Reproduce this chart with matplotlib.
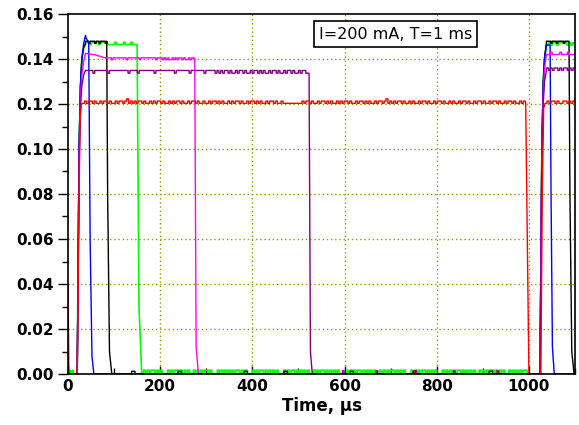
import matplotlib
matplotlib.use("Agg")
import matplotlib.pyplot as plt
from matplotlib.ticker import MultipleLocator

# ---------------- data ----------------
# Each trace = edge breakpoints (time in us, value) plus digitised-noise plateaus.
# A noise plateau is (t_start, t_end, base level, step, pattern); every character of the
# pattern is one sample: value = base + step * digit.

# red trace
red_a_t = [0, 2, 20, 23, 26, 29, 32]
red_a_v = [0.040, 0.0, 0.0, 0.060, 0.112, 0.120, 0.1203]
red_noise1 = ("0101101001011010010110120101011010010101101001010110100101101001"
              "0010110101001010110100101101010010110100100000000001011010010110"
              "1010010101101001011010100101101201010110100101001011010010110100"
              "1010010110100101101001011010010110100101")
red_b_t = [993, 1000, 1026, 1029, 1032, 1035]
red_b_v = [0.1203, 0.0, 0.0, 0.080, 0.118, 0.1203]
red_noise2 = "0101101001101011"

# purple trace
purple_a_t = [0, 20, 24, 27, 30, 34, 38]
purple_a_v = [0.0, 0.0, 0.090, 0.118, 0.128, 0.133, 0.1349]
purple_noise1 = ("1111011111110111111111101111011111111011111111110111111101111111011111"
                 "01010110100101101001011010100101101001011010010110")
purple_b_t = [520, 523, 526, 530]
purple_b_v = [0.1337, 0.1337, 0.010, 0.0]
purple_base = ("000000000000000000100000000000000000001000000000000000000000010000"
               "000000000000000000100000000000000000000000001000000000000000000")
purple_c_t = [1000, 1024, 1028, 1031, 1034, 1038]
purple_c_v = [0.0, 0.0, 0.090, 0.120, 0.130, 0.1350]
purple_noise2 = "1010110101101011"

# magenta trace
magenta_a_t = [0, 20, 24, 27, 30, 34, 38, 60, 80]
magenta_a_v = [0.0, 0.0, 0.095, 0.122, 0.133, 0.139, 0.1425, 0.1418, 0.1405]
magenta_noise1 = "111101111111101111111011111111101110101001010110100101"
magenta_b_t = [272, 275, 278, 283, 1000, 1024, 1028, 1031, 1034, 1038]
magenta_b_v = [0.1405, 0.1402, 0.012, 0.0, 0.0, 0.0, 0.095, 0.125, 0.136, 0.1420]
magenta_noise2 = "0010000100010000"

# green trace
green_base0 = "0010010000"
green_a_t = [20, 24, 27, 30, 34, 38]
green_a_v = [0.0, 0.100, 0.128, 0.140, 0.145, 0.1464]
green_noise1 = "1101111011110000100001000100"
green_b_t = [148, 150, 154, 160]
green_b_v = [0.1464, 0.1464, 0.030, 0.0]
green_base1 = ("0101011010100010101101010100101010110100010101010101101010001010"
               "1101010101000101011010101010010101101010101000010101011010101010"
               "0101010110101010001010101101010100010101010110101010100101010110"
               "101010010101010110")
green_c_t = [1000, 1024, 1028, 1031, 1034, 1038]
green_c_v = [0.0, 0.0, 0.100, 0.130, 0.140, 0.1462]
green_noise2 = "010110111101011"

# black trace
black_a_t = [0, 20, 24, 27, 30, 34, 38]
black_a_v = [0.0, 0.0, 0.100, 0.128, 0.140, 0.145, 0.1470]
black_noise1 = "11011101101110"
black_b_t = [84, 86, 90, 95]
black_b_v = [0.1479, 0.080, 0.010, 0.0]
black_base = ("0000001000000000000010000000000000000000100000000000100000000000"
              "00000000100000000000000000010000000000000000000000100000000000")
black_c_t = [1000, 1024, 1028, 1031, 1034, 1038]
black_c_v = [0.0, 0.0, 0.100, 0.130, 0.141, 0.1470]
black_noise2 = "1110111011110111"
black_d_t = [1087, 1089, 1093, 1098, 1100]
black_d_v = [0.1479, 0.080, 0.010, 0.0, 0.0]

# blue trace
blue_t = [0, 20, 24, 27, 30, 34, 38, 40, 43, 45, 48, 52, 56, 1000, 1024, 1028, 1031, 1034, 1038,
          1046, 1048, 1051, 1055, 1100]
blue_v = [0.0, 0.0, 0.100, 0.128, 0.140, 0.147, 0.1505, 0.1490, 0.1480, 0.1470, 0.060, 0.008, 0.0,
          0.0, 0.0, 0.100, 0.128, 0.140, 0.1462, 0.1462, 0.080, 0.012, 0.0, 0.0]

xticks = [0, 200, 400, 600, 800, 1000]
yticks = [0.00, 0.02, 0.04, 0.06, 0.08, 0.10, 0.12, 0.14, 0.16]
annotation = "I=200 mA, T=1 ms"
xlabel = "Time, \u03bcs"


def build(pieces):
    ts, vs = [], []
    for p in pieces:
        if len(p) == 2:
            ts += list(p[0])
            vs += list(p[1])
        else:
            t0, t1, base, step, pat = p
            dt = (t1 - t0) / len(pat)
            for i, c in enumerate(pat):
                v = base + step * int(c)
                ts += [t0 + i * dt, t0 + (i + 1) * dt]
                vs += [v, v]
    return ts, vs


red = build([(red_a_t, red_a_v), (32, 992, 0.1203, 0.0010, red_noise1), (red_b_t, red_b_v),
             (1035, 1104, 0.1203, 0.0010, red_noise2)])
purple = build([(purple_a_t, purple_a_v), (38, 520, 0.1337, 0.0012, purple_noise1),
                (purple_b_t, purple_b_v), (530, 1000, 0.0, 0.0014, purple_base),
                (purple_c_t, purple_c_v), (1038, 1104, 0.1350, 0.0010, purple_noise2)])
magenta = build([(magenta_a_t, magenta_a_v), (80, 272, 0.1397, 0.0008, magenta_noise1),
                 (magenta_b_t, magenta_b_v), (1038, 1104, 0.1420, 0.0010, magenta_noise2)])
green = build([(0, 20, 0.0, 0.0016, green_base0), (green_a_t, green_a_v),
               (38, 148, 0.1464, 0.0010, green_noise1), (green_b_t, green_b_v),
               (160, 1000, 0.0, 0.0017, green_base1), (green_c_t, green_c_v),
               (1038, 1104, 0.1462, 0.0010, green_noise2)])
black = build([(black_a_t, black_a_v), (38, 84, 0.1470, 0.0009, black_noise1),
               (black_b_t, black_b_v), (95, 1000, 0.0, 0.0012, black_base),
               (black_c_t, black_c_v), (1038, 1087, 0.1470, 0.0009, black_noise2),
               (black_d_t, black_d_v)])

fig = plt.figure(figsize=(5.79, 4.25), dpi=100)
ax = fig.add_axes([68 / 579, 51 / 425, (575 - 68) / 579, (374 - 14) / 425])

lw = 1.0
ax.plot(*green, color="#00ff00", lw=1.2)
ax.plot(*black, color="black", lw=lw)
ax.plot(blue_t, blue_v, color="#0000ff", lw=lw)
ax.plot(*magenta, color="#ff00ff", lw=lw)
ax.plot(*purple, color="#800080", lw=lw)
ax.plot(*red, color="#ff0000", lw=lw)

ax.set_xlim(0, 1100)
ax.set_ylim(0, 0.16)
ax.set_xticks(xticks)
ax.set_yticks(yticks)
ax.set_yticklabels([f"{v:.2f}" for v in yticks])
ax.xaxis.set_minor_locator(MultipleLocator(100))
ax.yaxis.set_minor_locator(MultipleLocator(0.01))
ax.tick_params(axis="y", which="major", direction="out", length=7, width=1)
ax.tick_params(axis="y", which="minor", direction="out", length=4, width=1)
ax.tick_params(axis="x", which="major", direction="in", length=6, width=1)
ax.tick_params(axis="x", which="minor", direction="in", length=4, width=1)
for lab in ax.get_xticklabels() + ax.get_yticklabels():
    lab.set_fontsize(11)
    lab.set_fontweight("bold")

for gx in xticks[1:]:
    ax.axvline(gx, color="#999900", ls=(0, (1, 2)), lw=1, zorder=0)
for gy in yticks[1:-1]:
    ax.axhline(gy, color="#999900", ls=(0, (1, 2)), lw=1, zorder=0)

for s in ax.spines.values():
    s.set_linewidth(1.2)
    s.set_zorder(4)

ax.text(711, 0.1511, annotation, ha="center", va="center", fontsize=11.5,
        bbox=dict(boxstyle="square,pad=0.32", fc="white", ec="black", lw=1.2), zorder=5)

ax.set_xlabel(xlabel, fontsize=12, fontweight="bold", labelpad=2)

fig.savefig("out.png", dpi=100)
